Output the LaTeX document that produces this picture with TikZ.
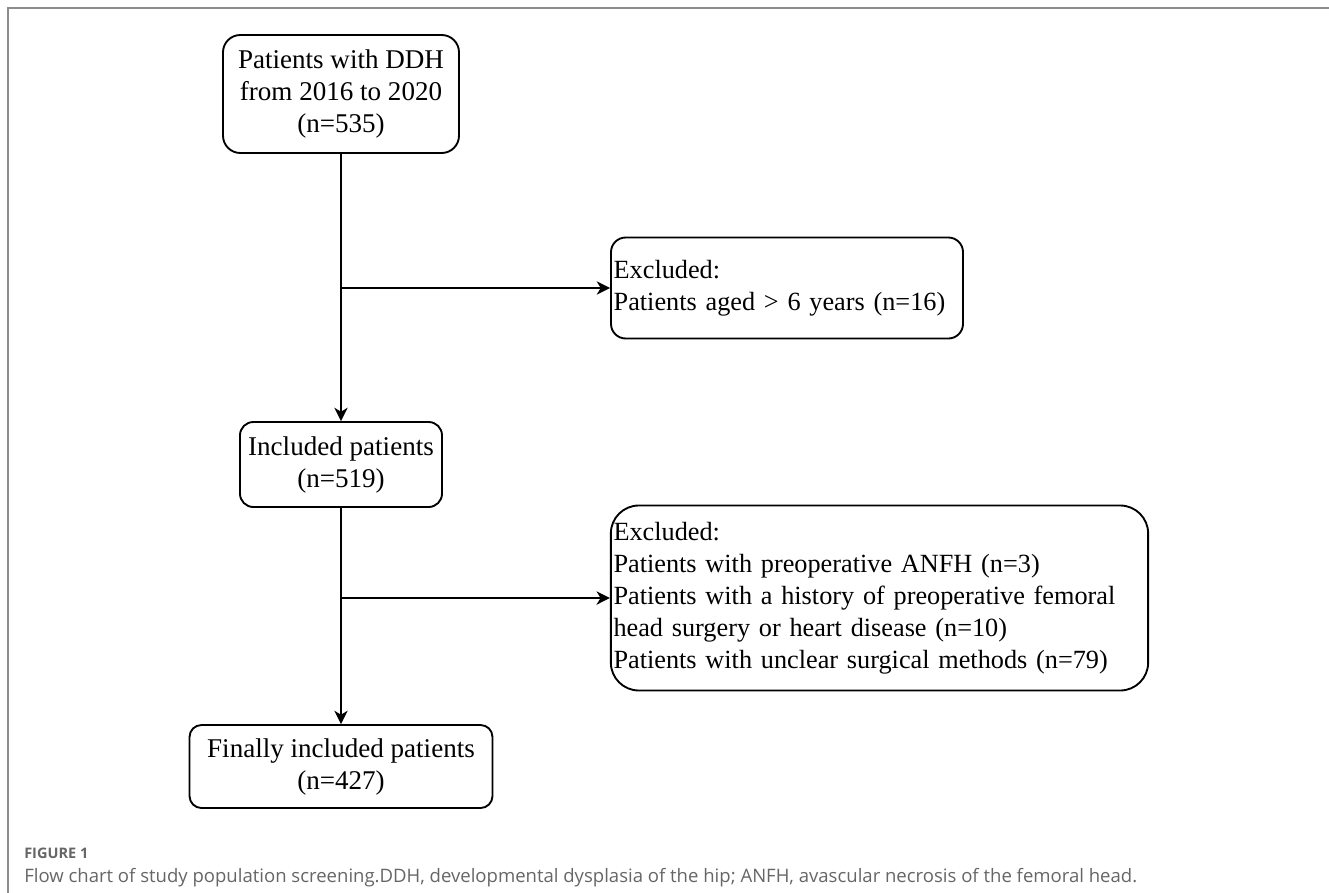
\documentclass[tikz,border=0pt]{standalone}
\usepackage{fontspec}
\setmainfont{Liberation Serif}
\newfontfamily\capfont{Open Sans}
\usetikzlibrary{arrows.meta, positioning, calc}
\definecolor{framegray}{HTML}{8C8C8C}
\definecolor{capgray}{HTML}{666666}

\tikzset{
  box/.style={draw, line width=1.4pt, align=center, inner sep=2pt,
    font=\fontsize{20.3}{24}\selectfont},
  exbox/.style={box, align=left, font=\fontsize{19.7}{24}\selectfont},
  flow/.style={line width=1.4pt, -{Stealth[length=10pt, width=10pt, inset=3pt]}}
}

\begin{document}
\begin{tikzpicture}[x=0.75pt, y=-0.75pt]
  \useasboundingbox (0,0) rectangle (1329,893);
  % frame
  \draw[framegray, line width=1.5pt] (1329,8) -- (8,8) -- (8,893);

  % main column
  \node[box, rounded corners=13pt, minimum width=177pt, minimum height=88.5pt] (start) at (341,94)
    {Patients with DDH\\from 2016 to 2020\\(n=535)};
  \node[box, rounded corners=10pt, minimum width=151.5pt, minimum height=63.75pt] (incl) at (341,464.5)
    {Included patients\\(n=519)};
  \node[box, rounded corners=9pt, minimum width=227.25pt, minimum height=62.25pt] (final) at (341,766.5)
    {Finally included patients\\(n=427)};

  % exclusions
  \node[exbox, rounded corners=11pt, text width=260pt, minimum height=75.75pt] (excl1) at (787,288)
    {Excluded:\\Patients aged > 6 years (n=16)};
  \node[exbox, rounded corners=21pt, text width=399pt, minimum height=138.75pt] (excl2) at (879.5,598)
    {Excluded:\\Patients with preoperative ANFH (n=3)\\Patients with a history of preoperative femoral\\head surgery or heart disease (n=10)\\Patients with unclear surgical methods (n=79)};

  \draw[flow] (start) -- (incl);
  \draw[flow] (incl) -- (final);
  \draw[flow] (start.south |- excl1.west) -- (excl1.west);
  \draw[flow] (incl.south |- excl2.west) -- (excl2.west);

  % caption
  \node[anchor=base west, inner sep=0pt, text=capgray, font=\capfont\bfseries\fontsize{10.9}{13}\selectfont] (figlab) at (24,858) {FIGURE 1};
  \node[anchor=base west, inner sep=0pt, text=capgray, font=\capfont\fontsize{13.9}{16}\selectfont] (caption) at (24,882)
    {Flow chart of study population screening.DDH, developmental dysplasia of the hip; ANFH, avascular necrosis of the femoral head.};
\end{tikzpicture}
\end{document}
